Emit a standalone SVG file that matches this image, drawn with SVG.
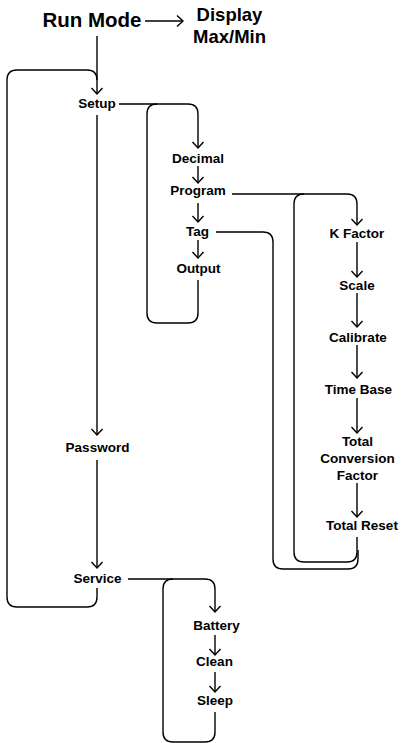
<svg xmlns="http://www.w3.org/2000/svg" width="402" height="743" viewBox="0 0 402 743">
<style>
text{font-family:"Liberation Sans",Arial,sans-serif;font-weight:bold;fill:#000;text-anchor:middle;font-size:13.5px}
.big{font-size:20.5px}
.mid{font-size:18.5px}
.c path{fill:none;stroke:#000;stroke-width:1.4}
</style>
<defs>
<marker id="a" markerUnits="userSpaceOnUse" markerWidth="14" markerHeight="14" viewBox="-8 -7 10 14" refX="0" refY="0" orient="auto">
<path d="M-6,-5.5 L0,0 L-6,5.5" fill="none" stroke="#000" stroke-width="1.4"/>
</marker>
</defs>
<rect width="402" height="743" fill="#fff"/>
<g class="c" id="connectors">
<path d="M145,21 H183" marker-end="url(#a)"/>
<path d="M97,36 V94" marker-end="url(#a)"/>
<path d="M97,80 Q97,70 87,70 H17 Q7,70 7,80 V597 Q7,607 17,607 H87 Q97,607 97,597 V588"/>
<path d="M119,104 H188 Q198,104 198,114 V148" marker-end="url(#a)"/>
<path d="M157,104 Q147,104 147,114 V313 Q147,323 157,323 H188 Q198,323 198,313 V280"/>
<path d="M198,166 V183" marker-end="url(#a)"/>
<path d="M198,203 V222" marker-end="url(#a)"/>
<path d="M198,240 V258" marker-end="url(#a)"/>
<path d="M97,115 V435" marker-end="url(#a)"/>
<path d="M97,460 V568" marker-end="url(#a)"/>
<path d="M232,194 H347 Q357,194 357,204 V225" marker-end="url(#a)"/>
<path d="M304,194 Q294,194 294,204 V552 Q294,562 304,562 H347 Q357,562 357,552 V537"/>
<path d="M216,232 H263 Q273,232 273,242 V559 Q273,569 283,569 H348 Q358,569 358,559 V550"/>
<path d="M357,242 V277" marker-end="url(#a)"/>
<path d="M357,293 V327" marker-end="url(#a)"/>
<path d="M357,345 V378" marker-end="url(#a)"/>
<path d="M357,398 V433" marker-end="url(#a)"/>
<path d="M357,483 V517" marker-end="url(#a)"/>
<path d="M128,579 H205 Q215,579 215,589 V612" marker-end="url(#a)"/>
<path d="M173,579 Q163,579 163,589 V732 Q163,742 173,742 H205 Q215,742 215,732 V712"/>
<path d="M215,635 V655" marker-end="url(#a)"/>
<path d="M215,672 V692" marker-end="url(#a)"/>
</g>
<g id="run-mode"><text class="big" x="92" y="27">Run Mode</text></g>
<g id="display"><text class="mid" x="229.5" y="21">Display</text><text class="mid" x="229.5" y="43">Max/Min</text></g>
<g id="setup"><text x="97" y="108">Setup</text></g>
<g id="decimal"><text x="198" y="163">Decimal</text></g>
<g id="program"><text x="198" y="195">Program</text></g>
<g id="tag"><text x="197.5" y="236">Tag</text></g>
<g id="output"><text x="198.5" y="273">Output</text></g>
<g id="k-factor"><text x="357" y="238">K Factor</text></g>
<g id="scale"><text x="357" y="290">Scale</text></g>
<g id="calibrate"><text x="358" y="342">Calibrate</text></g>
<g id="time-base"><text x="358.5" y="394">Time Base</text></g>
<g id="total-conversion-factor"><text x="357.5" y="446">Total</text><text x="357.5" y="463">Conversion</text><text x="357.5" y="480">Factor</text></g>
<g id="total-reset"><text x="362" y="530">Total Reset</text></g>
<g id="password"><text x="97.5" y="452">Password</text></g>
<g id="service"><text x="97.5" y="583">Service</text></g>
<g id="battery"><text x="216.5" y="630">Battery</text></g>
<g id="clean"><text x="214.5" y="666">Clean</text></g>
<g id="sleep"><text x="215" y="705">Sleep</text></g>
</svg>
